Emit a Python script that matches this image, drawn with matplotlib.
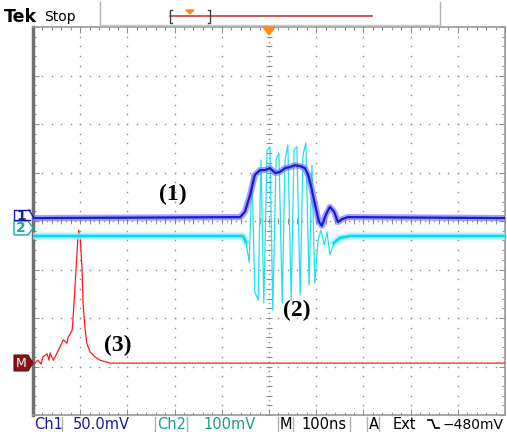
import numpy as np
import matplotlib
matplotlib.use("Agg")
import matplotlib.pyplot as plt
from matplotlib.patches import Polygon

# time in divisions (100 ns/div), level in divisions
ch1_t = [-5.0, -0.61, -0.51, -0.40, -0.30, -0.19, -0.08, 0.02, 0.13, 0.23,
         0.34, 0.44, 0.55, 0.66, 0.76, 0.83, 0.91, 1.00, 1.06, 1.12, 1.21,
         1.29, 1.38, 1.46, 1.55, 1.67, 5.0]
ch1_v = [0.06, 0.08, 0.19, 0.54, 0.95, 1.05, 1.05, 1.09, 0.99, 1.01,
         1.09, 1.11, 1.15, 1.13, 1.09, 0.95, 0.64, 0.23, -0.02, -0.10, 0.14,
         0.29, 0.19, -0.02, 0.04, 0.08, 0.06]

ch2_t = [-5.0, -0.55, -0.49, -0.42, -0.36, -0.30, -0.23, -0.17, -0.11, -0.04,
         0.02, 0.08, 0.15, 0.21, 0.28, 0.34, 0.40, 0.47, 0.53, 0.59, 0.66,
         0.72, 0.78, 0.85, 0.91, 0.97, 1.04, 1.10, 1.17, 1.23, 1.29, 1.38,
         1.50, 1.72, 5.0]
ch2_v = [-0.31, -0.31, -0.43, -0.85, 0.95, -1.46, -1.63, 1.26, -1.69, 1.46,
         1.53, -1.84, 1.26, 1.40, -1.69, 1.26, 1.57, -1.63, 1.46, 1.53, -1.53,
         1.36, 1.61, -1.32, 1.15, -1.28, -0.39, -0.19, -0.49, -0.23, -0.70, -0.45,
         -0.35, -0.31, -0.31]

math_t = [-5.0, -4.96, -4.90, -4.83, -4.79, -4.70, -4.66, -4.64, -4.57, -4.53,
          -4.47, -4.43, -4.36, -4.28, -4.26, -4.17, -4.13, -4.09, -4.05, -4.03,
          -4.00, -3.96, -3.94, -3.90, -3.86, -3.79, -3.69, -3.58, -3.37, 5.0]
math_v = [-2.91, -2.93, -2.87, -2.95, -2.80, -2.74, -2.87, -2.72, -2.87, -2.80,
          -2.68, -2.60, -2.45, -2.52, -2.41, -2.25, -1.69, -1.01, -0.39, -0.19,
          -0.33, -1.01, -1.69, -2.19, -2.52, -2.70, -2.80, -2.87, -2.93, -2.93]

labels = ["(1)", "(2)", "(3)"]
label_t = [-2.03, 0.59, -3.20]
label_v = [0.54, -1.84, -2.56]

W, H = 507, 432


def main():
    fig = plt.figure(figsize=(W / 100, H / 100), dpi=100)
    fig.patch.set_facecolor("white")
    ax = fig.add_axes([33 / W, 17 / H, 472 / W, 388 / H])
    ax.set_xlim(-5, 5)
    ax.set_ylim(-4, 4)

    # graticule
    grey = "#8a8a8a"
    dots = np.arange(-5, 5.01, 0.2)
    for gx in range(-4, 5):
        if gx != 0:
            ax.plot(np.full(41, gx), np.arange(-4, 4.01, 0.2), "s", ms=1.0,
                    color=grey, mew=0)
    for gy in range(-3, 4):
        if gy != 0:
            ax.plot(dots, np.full(len(dots), gy), "s", ms=1.0, color=grey, mew=0)
    ax.plot(np.arange(-5, 5.01, 0.1), np.zeros(101), "s", ms=1.0, color=grey, mew=0)
    ax.plot(np.zeros(81), np.arange(-4, 4.01, 0.1), "s", ms=1.0, color=grey, mew=0)
    ax.plot(dots, np.zeros(len(dots)), "|", ms=4, color=grey, mew=0.7)
    ax.plot(np.zeros(41), np.arange(-4, 4.01, 0.2), "_", ms=4, color=grey, mew=0.7)

    ax.set_xticks(range(-5, 6))
    ax.set_yticks(range(-4, 5))
    ax.set_xticks(dots, minor=True)
    ax.set_yticks(np.arange(-4, 4.01, 0.2), minor=True)
    ax.tick_params(which="both", direction="in", top=True, right=True,
                   labelbottom=False, labelleft=False, color=grey, width=0.7)
    ax.tick_params(which="major", length=4)
    ax.tick_params(which="minor", length=2.5)
    for s in ["top", "bottom", "right"]:
        ax.spines[s].set_color("#9a9a9a")
        ax.spines[s].set_linewidth(1.2)
    ax.spines["left"].set_color("#707070")
    ax.spines["left"].set_linewidth(2.5)

    # traces
    ax.plot(math_t, math_v, color="#ff1a1a", lw=0.9, zorder=3)
    ax.plot(ch2_t[:3], ch2_v[:3], color="#8ff4ff", lw=5, alpha=0.8, zorder=3)
    ax.plot(ch2_t[-4:], ch2_v[-4:], color="#8ff4ff", lw=5, alpha=0.8, zorder=3)
    ax.plot(ch2_t, ch2_v, color="#22e0f0", lw=0.9, zorder=4)
    ax.plot(ch2_t[:3], ch2_v[:3], color="#10d8ea", lw=2, zorder=4)
    ax.plot(ch2_t[-4:], ch2_v[-4:], color="#10d8ea", lw=2, zorder=4)
    ax.plot(ch1_t, ch1_v, color="#7a7aff", lw=4.5, alpha=0.7, zorder=5)
    ax.plot(ch1_t, ch1_v, color="#1a1ad0", lw=1.6, zorder=6)

    for txt, tx, ty in zip(labels, label_t, label_v):
        ax.text(tx, ty, txt, ha="center", va="center", fontsize=17,
                fontweight="bold", family="Liberation Serif", zorder=7)

    # overlay in screen pixels for the scope chrome
    ov = fig.add_axes([0, 0, 1, 1])
    ov.set_xlim(0, W)
    ov.set_ylim(H, 0)
    ov.axis("off")
    ov.patch.set_alpha(0)

    ov.text(4, 22, "Tek", fontsize=12.5, fontweight="bold", family="DejaVu Sans",
            va="baseline")
    ov.text(44, 21, "Stop", fontsize=10, family="DejaVu Sans", va="baseline")
    ov.plot([100, 100], [2, 25], color="#b0b0b0", lw=1)
    ov.plot([440, 440], [2, 25], color="#b0b0b0", lw=1)
    ov.plot([100, 440], [24.5, 24.5], color="#c8c8c8", lw=1)
    ov.plot([170, 372], [16, 16], color="#c04040", lw=1.2)
    ov.plot([172, 170, 170, 172], [10, 10, 23, 23], color="#404040", lw=1)
    ov.plot([208, 210, 210, 208], [10, 10, 23, 23], color="#404040", lw=1)
    ov.add_patch(Polygon([[186, 10], [194, 10], [190, 14]], color="#ff8c1a"))
    ov.add_patch(Polygon([[263, 27], [275, 27], [269, 35]], color="#ff8c1a",
                         zorder=8))

    # channel markers
    ov.plot([30, 14, 14, 30], [210, 210, 220, 220], color="#1a1ab0", lw=1)
    ov.plot([29, 34], [210, 218], color="#1a1ab0", lw=1)
    ov.text(21.5, 215.5, "1", color="#1a1ab0", fontsize=10, fontweight="bold",
            ha="center", va="center", zorder=5)
    ov.add_patch(Polygon([[14, 221], [28, 221], [33, 228], [28, 235], [14, 235]],
                         fc="white", ec="#1aa8a8", lw=1))
    ov.text(21, 228.5, "2", color="#1aa8a8", fontsize=10, fontweight="bold",
            ha="center", va="center")
    ov.add_patch(Polygon([[14, 355], [28, 355], [33, 363], [28, 371], [14, 371]],
                         fc="#8b1212", ec="#6a0a0a", lw=0.8))
    ov.text(21.5, 363.5, "M", color="white", fontsize=9, ha="center", va="center")

    # bottom status bar
    for sx in [62, 155, 187, 278, 293, 350, 367, 379]:
        ov.plot([sx, sx], [417, 432], color="#b0b0b0", lw=1)
    status = [(34, "Ch1", "#1a1a9a"), (73, "50.0mV", "#1a1a9a"),
              (157, "Ch2", "#1a9a9a"), (203, "100mV", "#1a9a9a"),
              (280, "M", "black"), (301, "100ns", "black"),
              (369, "A", "black"), (393, "Ext", "black")]
    for sx, txt, col in status:
        ov.text(sx, 429, txt, color=col, fontsize=10.5, family="DejaVu Sans",
                va="baseline")
    ov.text(504, 429, "\u2212480mV", color="black", fontsize=10,
            family="DejaVu Sans", va="baseline", ha="right")
    ov.plot([428, 432, 435, 439], [420, 420, 428, 428], color="black", lw=1.2)

    fig.savefig("out.png", dpi=100)


if __name__ == "__main__":
    main()
